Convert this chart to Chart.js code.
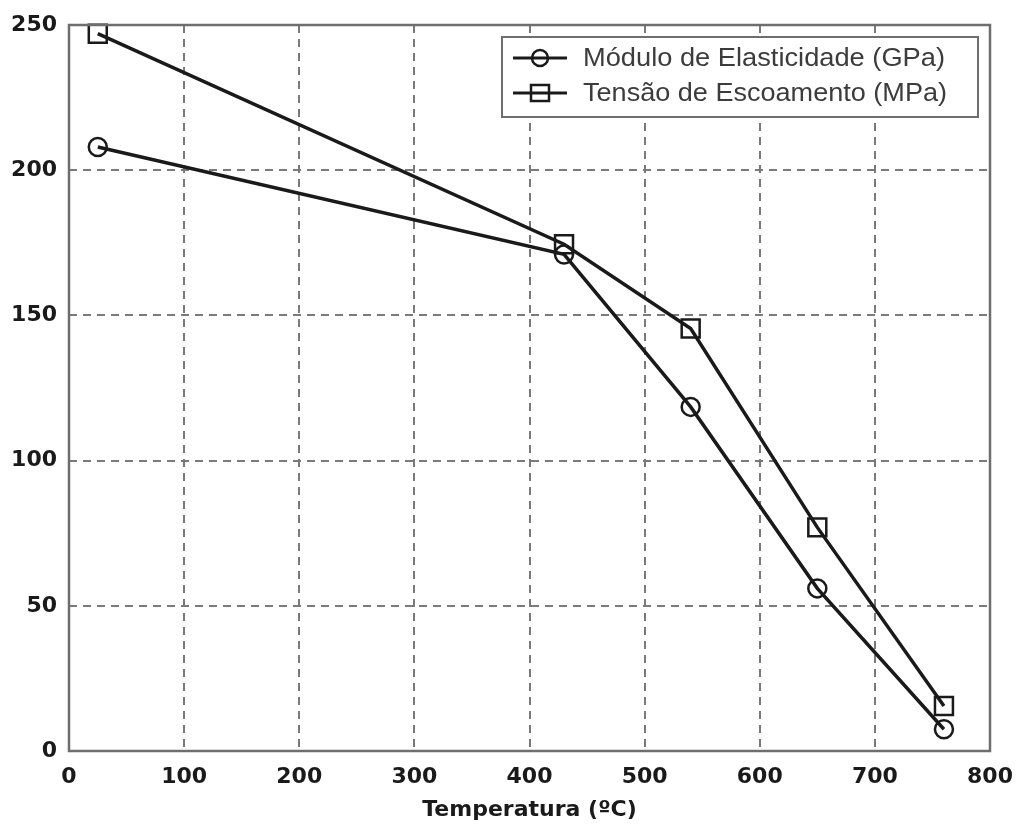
<!DOCTYPE html>
<html>
<head>
<meta charset="utf-8">
<script src="https://cdn.jsdelivr.net/npm/chart.js@4"></script>
<style>
  html, body { margin: 0; padding: 0; background: #fff; }
  #wrap { width: 1021px; height: 829px; }
</style>
</head>
<body>
<div id="wrap"><canvas id="c" width="1021" height="829"></canvas></div>
<script>
// Temperatures (°C) at which the steel properties were measured
const temperatures = [25, 430, 540, 650, 760];
// Modulus of elasticity (GPa)
const modulo = [208, 171, 118.5, 56, 7.5];
// Yield stress (MPa)
const tensao = [247, 174.5, 145.5, 77, 15.5];
const seriesNames = ['Módulo de Elasticidade (GPa)', 'Tensão de Escoamento (MPa)'];
const xTicks = [0, 100, 200, 300, 400, 500, 600, 700, 800];
const yTicks = [0, 50, 100, 150, 200, 250];

const lineColor = '#1a1a1a';
const gridColor = '#7a7a7a';
const tickFont = { family: '"DejaVu Sans", sans-serif', size: 22, weight: 'bold' };

// Frame around the plot area plus a boxed legend in the upper right corner
const framePlugin = {
  id: 'frame',
  afterDraw(chart) {
    const { ctx, chartArea: a } = chart;
    ctx.save();
    ctx.strokeStyle = '#6e6e6e';
    ctx.lineWidth = 2.5;
    ctx.strokeRect(a.left, a.top, a.right - a.left, a.bottom - a.top);

    // legend box
    const bx = 502, by = 37, bw = 476, bh = 80;
    ctx.fillStyle = '#fff';
    ctx.fillRect(bx, by, bw, bh);
    ctx.strokeStyle = '#6e6e6e';
    ctx.lineWidth = 2;
    ctx.strokeRect(bx, by, bw, bh);
    const rows = [58, 93];
    const textWidths = [362, 364];
    chart.data.datasets.forEach((ds, i) => {
      const y = rows[i];
      ctx.strokeStyle = lineColor;
      ctx.lineWidth = 3;
      ctx.beginPath();
      ctx.moveTo(513, y);
      ctx.lineTo(567, y);
      ctx.stroke();
      ctx.lineWidth = 2.5;
      if (ds.pointStyle === 'circle') {
        ctx.beginPath();
        ctx.arc(540, y, 8, 0, Math.PI * 2);
        ctx.stroke();
      } else {
        ctx.strokeRect(531, y - 8, 18, 16);
      }
      ctx.fillStyle = '#3c3c3c';
      ctx.font = '25px "Liberation Sans", Arial, sans-serif';
      ctx.textBaseline = 'middle';
      ctx.textAlign = 'left';
      const w = ctx.measureText(ds.label).width;
      ctx.save();
      ctx.translate(583, y + 1);
      ctx.scale(textWidths[i] / w, 1);
      ctx.fillText(ds.label, 0, 0);
      ctx.restore();
    });
    ctx.restore();
  }
};

const toPoints = (ys) => temperatures.map((t, i) => ({ x: t, y: ys[i] }));

const seriesStyle = {
  borderColor: lineColor,
  borderWidth: 3.5,
  pointBorderWidth: 2.5,
  pointBackgroundColor: 'rgba(255,255,255,0)',
  pointBorderColor: lineColor,
  tension: 0,
  clip: false
};

new Chart(document.getElementById('c'), {
  type: 'line',
  data: {
    datasets: [
      Object.assign({
        label: seriesNames[0],
        data: toPoints(modulo),
        pointStyle: 'circle',
        pointRadius: 9
      }, seriesStyle),
      Object.assign({
        label: seriesNames[1],
        data: toPoints(tensao),
        pointStyle: 'rect',
        pointRadius: 12.7
      }, seriesStyle)
    ]
  },
  options: {
    responsive: false,
    animation: false,
    layout: { padding: { top: 25, right: 31, left: 0, bottom: 0 } },
    plugins: { legend: { display: false }, tooltip: { enabled: false } },
    scales: {
      x: {
        type: 'linear',
        min: 0,
        max: 800,
        afterBuildTicks(scale) { scale.ticks = xTicks.map(v => ({ value: v })); },
        afterFit(scale) {
          scale.height = 78;
          scale.paddingLeft = 0;
          scale.paddingRight = 0;
        },
        grid: {
          color: gridColor,
          lineWidth: 2,
          drawTicks: false
        },
        border: { display: false, dash: [8, 6] },
        ticks: {
          padding: 13,
          color: '#1a1a1a',
          font: tickFont,
          maxRotation: 0
        },
        title: {
          display: true,
          text: 'Temperatura (ºC)',
          color: '#1a1a1a',
          font: tickFont,
          padding: { top: 0, bottom: 6 }
        }
      },
      y: {
        type: 'linear',
        min: 0,
        max: 250,
        afterBuildTicks(scale) { scale.ticks = yTicks.map(v => ({ value: v })); },
        afterFit(scale) {
          scale.width = 69;
          scale.paddingTop = 0;
          scale.paddingBottom = 0;
        },
        grid: {
          color: gridColor,
          lineWidth: 2,
          drawTicks: false
        },
        border: { display: false, dash: [8, 6] },
        ticks: {
          padding: 12,
          color: '#1a1a1a',
          font: tickFont
        }
      }
    }
  },
  plugins: [framePlugin]
});
</script>
</body>
</html>
